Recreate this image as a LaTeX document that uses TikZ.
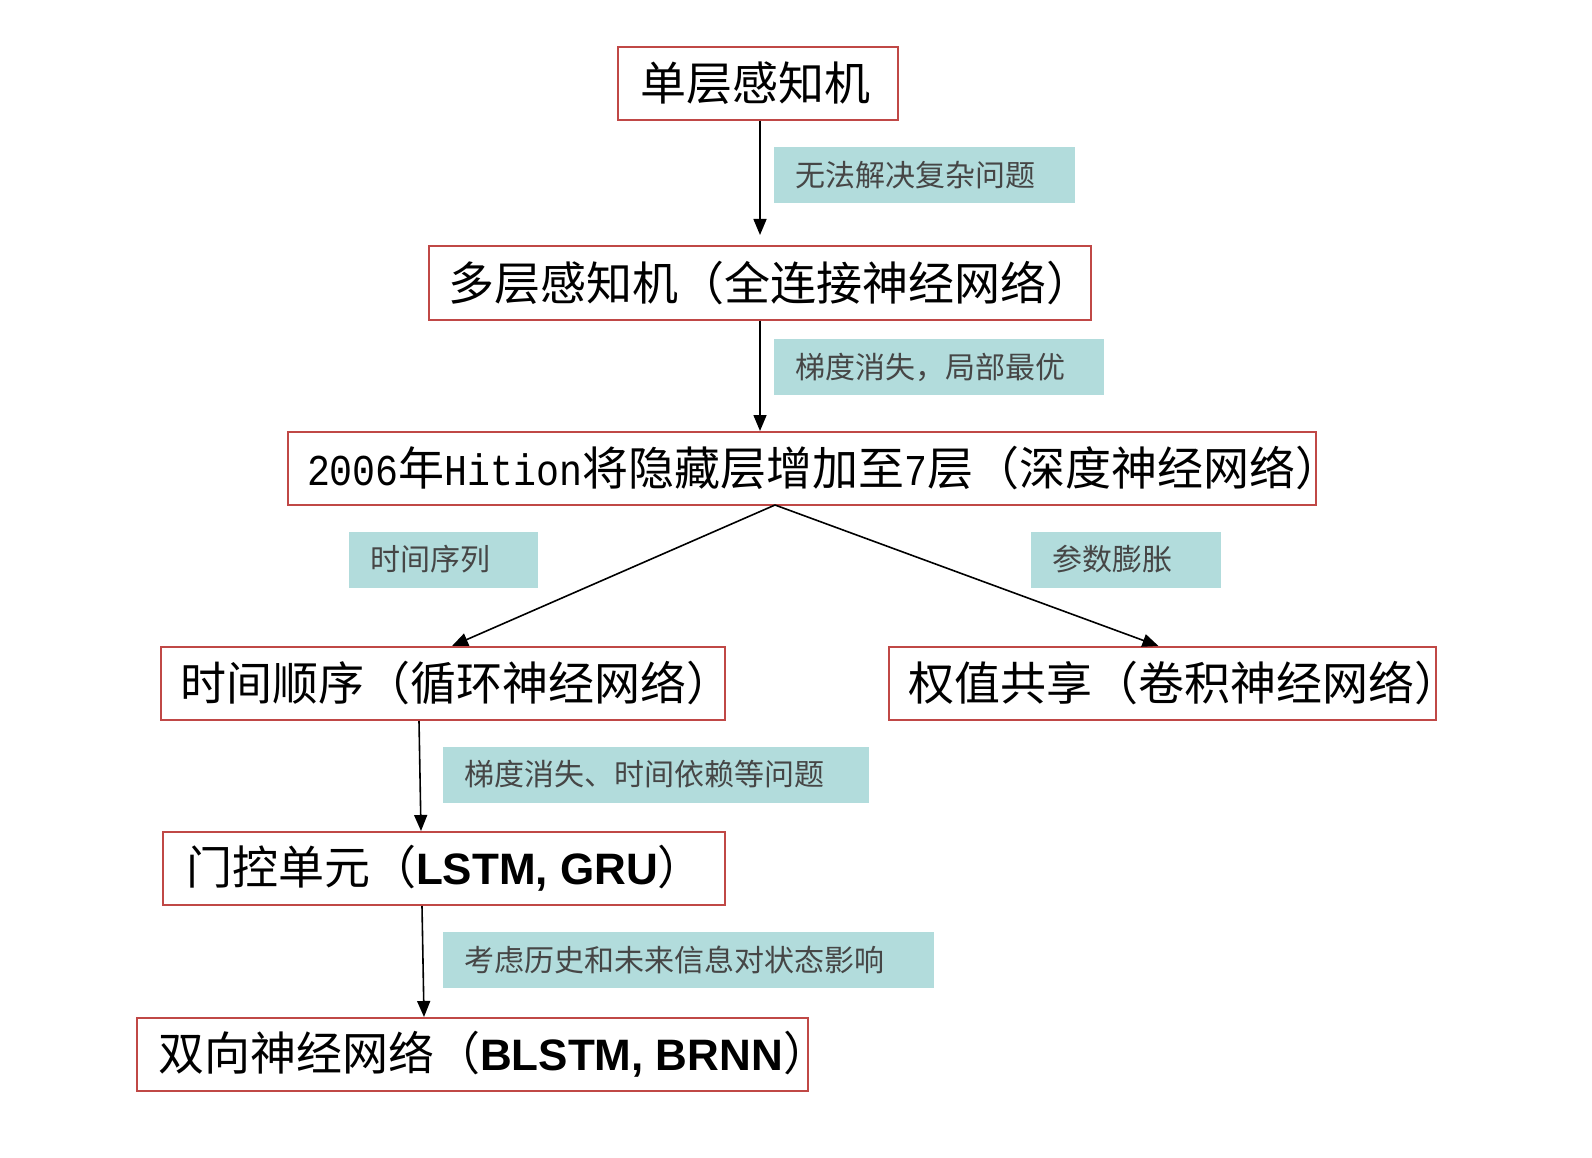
\documentclass[tikz,border=0pt]{standalone}
\usepackage{fontspec}
\usepackage{graphicx}
\newfontfamily\cjk{Noto Sans CJK SC}
\newfontfamily\arialf{Liberation Sans}
\newfontfamily\monof{Liberation Mono}
\usetikzlibrary{arrows.meta}
\definecolor{boxred}{RGB}{192,72,70}
\definecolor{labfill}{RGB}{178,220,220}
\definecolor{labtext}{RGB}{70,70,70}
\newcommand\fitbox[2]{\makebox[#1pt][l]{#2}}
\newcommand\lat[1]{{\arialf\bfseries\fontsize{44}{50}\selectfont #1}}
\newcommand\mon[1]{\scalebox{0.87}[1]{\monof\fontsize{44}{50}\selectfont #1}}
\tikzset{
  stagebox/.style={draw=boxred, line width=2pt, fill=white, minimum height=73pt,
    inner xsep=19pt, inner ysep=0pt, font=\cjk\fontsize{46}{52}\selectfont, text=black},
  notebox/.style={fill=labfill, minimum height=56pt, inner xsep=21pt, inner ysep=0pt,
    font=\cjk\fontsize{30}{36}\selectfont, text=labtext},
  flow/.style={line width=1.6pt, draw=black, -{Triangle[length=16pt,width=13pt]}},
}
\begin{document}
\begin{tikzpicture}[x=1pt,y=-1pt]
\useasboundingbox[fill=white] (0,0) rectangle (1592,1158);

% stage boxes
\node[stagebox] (b1) at (758,83.5) {\fitbox{242}{\hspace{3pt}单层感知机}};
\node[stagebox] (b2) at (760,283) {\fitbox{624}{多层感知机（全连接神经网络）}};
\node[stagebox] (b3) at (802,468.5) {\fitbox{990}{\mon{2006}年\mon{Hition}将隐藏层增加至\mon{7}层（深度神经网络）}};
\node[stagebox] (b4) at (443,683.5) {\fitbox{526}{时间顺序（循环神经网络）}};
\node[stagebox] (b5) at (1162.5,683.5) {\fitbox{509}{权值共享（卷积神经网络）}};
\node[stagebox] (b6) at (444,868.5) {\fitbox{524}{\hspace{4pt}门控单元（\lat{LSTM, GRU}）}};
\node[stagebox] (b7) at (472.5,1054.5) {\fitbox{633}{\hspace{2pt}双向神经网络（\lat{BLSTM, BRNN}）}};

% labels
\node[notebox] (n1) at (924.5,175) {\fitbox{259}{无法解决复杂问题}};
\node[notebox] (n2) at (939,367) {\fitbox{288}{梯度消失，局部最优}};
\node[notebox] (n3) at (443.5,559.5) {\fitbox{147}{时间序列}};
\node[notebox] (n4) at (1126,559.5) {\fitbox{148}{参数膨胀}};
\node[notebox] (n5) at (656,774.5) {\fitbox{384}{梯度消失、时间依赖等问题}};
\node[notebox] (n6) at (688.5,960) {\fitbox{449}{考虑历史和未来信息对状态影响}};

% connectors
\coordinate (e12) at (760,235);
\coordinate (split) at (775,505);
\draw[flow] ([xshift=2pt]b1.south) -- (e12);
\draw[flow] (b2.south) -- (b2.south |- b3.north);
\draw[flow] (split) -- ([xshift=9pt]b4.north);
\draw[flow] (split) -- ([xshift=-4pt]b5.north);
\draw[flow] ([xshift=-24pt]b4.south) -- ([xshift=-23pt]b6.north);
\draw[flow] ([xshift=-22pt]b6.south) -- ([xshift=-48.5pt]b7.north);
\end{tikzpicture}
\end{document}
